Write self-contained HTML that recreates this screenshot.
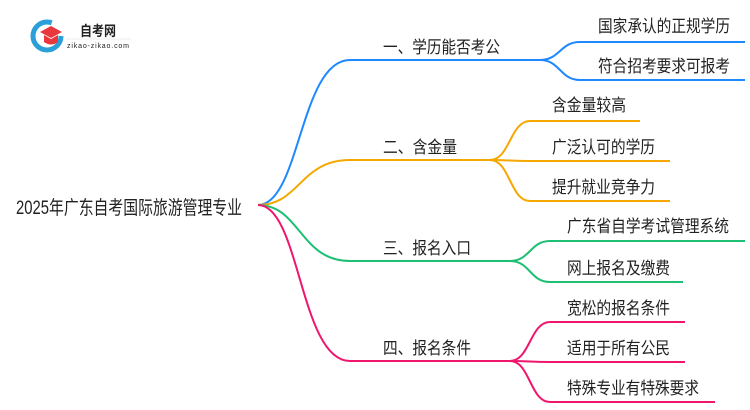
<!DOCTYPE html>
<html><head><meta charset="utf-8"><style>
html,body{margin:0;padding:0;background:#fff;}
svg{display:block;}
text{font-family:"Liberation Sans","Noto Sans CJK SC",sans-serif;fill:#222;}
</style></head><body>
<svg width="750" height="410" viewBox="0 0 750 410" xmlns="http://www.w3.org/2000/svg">
<circle cx="47" cy="36" r="14" fill="none" stroke="#2a9fd8" stroke-width="5"/>
<path d="M52 22 A14 14 0 0 1 61 36" fill="none" stroke="#fff" stroke-width="7"/>
<polygon points="40,32 51,26 62,32 51,38" fill="#e8383d"/>
<path d="M44 35 L44 42 Q51 47 58 42 L58 35 L51 39 Z" fill="#e8383d"/>
<text x="80" y="36" font-size="14" font-weight="bold" fill="#333" textLength="36" lengthAdjust="spacingAndGlyphs">自考网</text>
<line x1="66" y1="39" x2="131" y2="39" stroke="#ddd" stroke-width="0.6"/>
<text x="67" y="48" font-size="7" fill="#777" textLength="62">zikao-zikao.com</text>

<g fill="none" stroke-width="2">
<path d="M258 205 C300 205 300 60 350 60 L540 60" stroke="#1e88ff"/>
<path d="M540 60 C560 60 560 42 580 42 L745 42" stroke="#1e88ff"/>
<path d="M540 60 C560 60 560 80 580 80 L745 80" stroke="#1e88ff"/>
<path d="M258 205 C300 205 300 160 350 160 L490 160" stroke="#f5a800"/>
<path d="M490 160 C510 160 510 121 530 121 L640 121" stroke="#f5a800"/>
<path d="M490 160 C510 160 510 161 530 161 L670 161" stroke="#f5a800"/>
<path d="M490 160 C510 160 510 201 530 201 L670 201" stroke="#f5a800"/>
<path d="M258 205 C300 205 300 261 350 261 L510 261" stroke="#1dbf73"/>
<path d="M510 261 C530 261 530 241 550 241 L745 241" stroke="#1dbf73"/>
<path d="M510 261 C530 261 530 282 550 282 L683 282" stroke="#1dbf73"/>
<path d="M258 205 C300 205 300 361 350 361 L510 361" stroke="#f0166e"/>
<path d="M510 361 C530 361 530 322 550 322 L685 322" stroke="#f0166e"/>
<path d="M510 361 C530 361 530 362 550 362 L685 362" stroke="#f0166e"/>
<path d="M510 361 C530 361 530 402 550 402 L715 402" stroke="#f0166e"/>
</g>

<text x="16" y="214" font-size="19" textLength="226" lengthAdjust="spacingAndGlyphs">2025年广东自考国际旅游管理专业</text>

<text x="383" y="53" font-size="17" textLength="117" lengthAdjust="spacingAndGlyphs">一、学历能否考公</text>
<text x="598" y="32" font-size="17" textLength="132" lengthAdjust="spacingAndGlyphs">国家承认的正规学历</text>
<text x="598" y="72" font-size="17" textLength="132" lengthAdjust="spacingAndGlyphs">符合招考要求可报考</text>

<text x="383" y="153" font-size="17" textLength="74" lengthAdjust="spacingAndGlyphs">二、含金量</text>
<text x="552" y="111" font-size="17" textLength="74" lengthAdjust="spacingAndGlyphs">含金量较高</text>
<text x="552" y="153" font-size="17" textLength="103" lengthAdjust="spacingAndGlyphs">广泛认可的学历</text>
<text x="552" y="193" font-size="17" textLength="103" lengthAdjust="spacingAndGlyphs">提升就业竞争力</text>

<text x="383" y="254" font-size="17" textLength="88" lengthAdjust="spacingAndGlyphs">三、报名入口</text>
<text x="567" y="232" font-size="17" textLength="162" lengthAdjust="spacingAndGlyphs">广东省自学考试管理系统</text>
<text x="567" y="274" font-size="17" textLength="103" lengthAdjust="spacingAndGlyphs">网上报名及缴费</text>

<text x="383" y="354" font-size="17" textLength="88" lengthAdjust="spacingAndGlyphs">四、报名条件</text>
<text x="567" y="314" font-size="17" textLength="103" lengthAdjust="spacingAndGlyphs">宽松的报名条件</text>
<text x="567" y="354" font-size="17" textLength="103" lengthAdjust="spacingAndGlyphs">适用于所有公民</text>
<text x="567" y="394" font-size="17" textLength="132" lengthAdjust="spacingAndGlyphs">特殊专业有特殊要求</text>
</svg>
</body></html>
